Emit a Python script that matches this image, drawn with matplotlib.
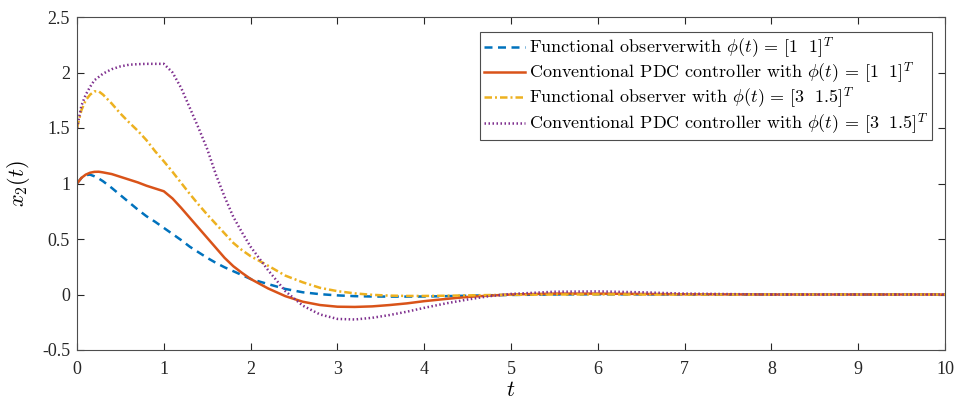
import matplotlib
matplotlib.use("Agg")
import matplotlib.pyplot as plt

t = [0, 0.05, 0.1, 0.15, 0.2, 0.25, 0.3, 0.4, 0.5, 0.6, 0.7, 0.8, 0.9, 1.0,
     1.1, 1.2, 1.3, 1.4, 1.5, 1.6, 1.7, 1.8, 1.9, 2.0, 2.2, 2.4, 2.6, 2.8,
     3.0, 3.2, 3.4, 3.6, 3.8, 4.0, 4.25, 4.5, 4.75, 5.0, 5.5, 6.0, 6.5, 7.0,
     8.0, 9.0, 10.0]

fo_11 = [1.0, 1.05, 1.075, 1.08, 1.065, 1.045, 1.02, 0.96, 0.895, 0.83, 0.765,
         0.705, 0.655, 0.60, 0.545, 0.49, 0.43, 0.38, 0.33, 0.285, 0.245, 0.21,
         0.175, 0.14, 0.094, 0.05, 0.02, 0.003, -0.008, -0.015, -0.018, -0.019,
         -0.019, -0.018, -0.015, -0.011, -0.007, -0.004, 0.0, 0.002, 0.001, 0.0,
         0.0, 0.0, 0.0]

pdc_11 = [1.0, 1.05, 1.08, 1.097, 1.105, 1.106, 1.10, 1.085, 1.06, 1.035, 1.01,
          0.98, 0.955, 0.93, 0.865, 0.78, 0.69, 0.60, 0.51, 0.42, 0.33, 0.255,
          0.195, 0.14, 0.055, -0.015, -0.065, -0.095, -0.11, -0.112, -0.107,
          -0.095, -0.08, -0.06, -0.04, -0.022, -0.01, 0.0, 0.008, 0.008, 0.005,
          0.002, 0.0, 0.0, 0.0]

fo_315 = [1.5, 1.66, 1.75, 1.80, 1.83, 1.83, 1.80, 1.72, 1.63, 1.55, 1.475, 1.39,
          1.29, 1.20, 1.105, 1.005, 0.905, 0.81, 0.72, 0.635, 0.55, 0.465, 0.40,
          0.345, 0.26, 0.17, 0.11, 0.06, 0.03, 0.01, -0.003, -0.01, -0.013,
          -0.013, -0.011, -0.008, -0.005, -0.003, 0.0, 0.001, 0.0, 0.0, 0.0,
          0.0, 0.0]

pdc_315 = [1.5, 1.70, 1.80, 1.87, 1.93, 1.96, 1.99, 2.03, 2.055, 2.07, 2.075,
           2.078, 2.078, 2.078, 2.0, 1.86, 1.68, 1.50, 1.31, 1.08, 0.88, 0.70,
           0.56, 0.43, 0.22, 0.03, -0.10, -0.18, -0.22, -0.225, -0.21, -0.185,
           -0.155, -0.12, -0.08, -0.045, -0.015, 0.005, 0.025, 0.028, 0.02,
           0.008, 0.0, 0.0, 0.0]

labels = [r"Functional observerwith $\phi(t)\,=\,[1\ \ 1]^T$",
          r"Conventional PDC controller with $\phi(t)\,=\,[1\ \ 1]^T$",
          r"Functional observer with $\phi(t)\,=\,[3\ \ 1.5]^T$",
          r"Conventional PDC controller with $\phi(t)\,=\,[3\ \ 1.5]^T$"]

xticks = [0, 1, 2, 3, 4, 5, 6, 7, 8, 9, 10]
yticks = [-0.5, 0, 0.5, 1, 1.5, 2, 2.5]
yticklabels = ["-0.5", "0", "0.5", "1", "1.5", "2", "2.5"]

plt.rcParams["font.family"] = ["Liberation Serif", "DejaVu Serif"]
plt.rcParams["mathtext.fontset"] = "cm"
plt.rcParams["axes.unicode_minus"] = False

fig = plt.figure(figsize=(9.57, 4.0), dpi=100)
ax = fig.add_axes([0.0805, 0.125, 0.907, 0.8325])

lw = 1.8
ax.plot(t, fo_11, color="#0072BD", lw=lw, ls=(0, (3.2, 2.2)), label=labels[0])
ax.plot(t, pdc_11, color="#D95319", lw=lw, ls="-", label=labels[1])
ax.plot(t, fo_315, color="#EDB120", lw=lw, ls=(0, (3.0, 1.2, 0.8, 1.2)), label=labels[2])
ax.plot(t, pdc_315, color="#7E2F8E", lw=lw, ls=(0, (0.6, 1.0)), label=labels[3])

ax.set_xlim(0, 10)
ax.set_ylim(-0.5, 2.5)
ax.set_xticks(xticks)
ax.set_xticklabels([str(v) for v in xticks])
ax.set_yticks(yticks)
ax.set_yticklabels(yticklabels)

for s in ax.spines.values():
    s.set_color("#4d4d4d")
    s.set_linewidth(0.8)
ax.tick_params(direction="in", top=True, right=True, length=5, width=0.8,
               colors="#262626", labelsize=13)
ax.tick_params(axis="x", pad=8)
ax.tick_params(axis="y", pad=5)
for lab in ax.get_xticklabels() + ax.get_yticklabels():
    lab.set_color("#262626")

ax.set_xlabel(r"$t$", fontsize=16, labelpad=3)
ax.set_ylabel(r"$x_2(t)$", fontsize=16, labelpad=7)

leg = ax.legend(loc="upper right", bbox_to_anchor=(0.985, 0.955), borderaxespad=0,
                prop={"family": "cmr10", "size": 13},
                handlelength=2.3, handletextpad=0.2, labelspacing=0.0,
                borderpad=0.2, fancybox=False, framealpha=1, edgecolor="#4d4d4d")
leg.get_frame().set_linewidth(0.8)

fig.savefig("out.png", dpi=100)
